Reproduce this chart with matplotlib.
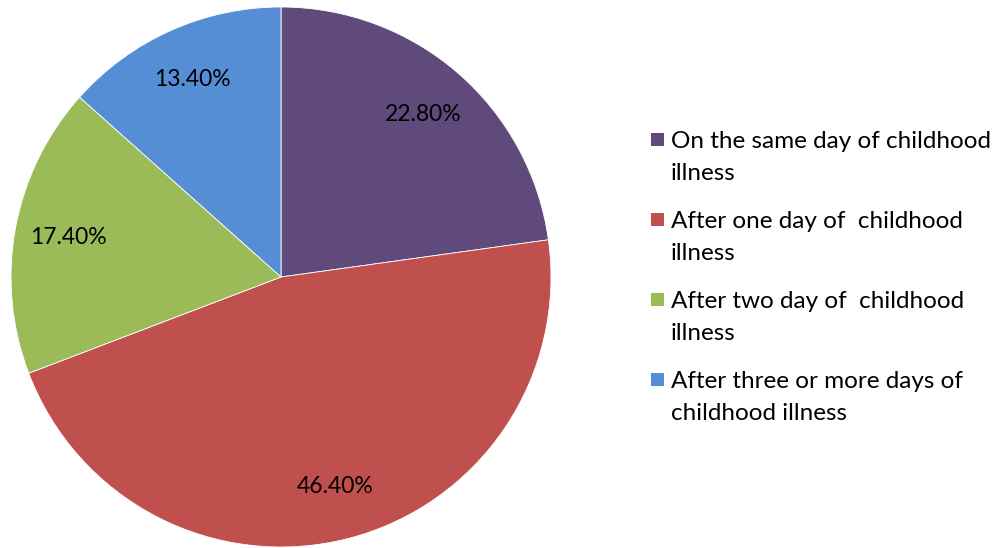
import matplotlib
matplotlib.use("Agg")
import matplotlib.pyplot as plt
from matplotlib.patches import Rectangle

plt.rcParams['font.family'] = ['Lato', 'DejaVu Sans']

# data
labels = ["On the same day of childhood\nillness",
          "After one day of  childhood\nillness",
          "After two day of  childhood\nillness",
          "After three or more days of\nchildhood illness"]
values = [22.8, 46.4, 17.4, 13.4]
colors = ["#604A7B", "#C0504D", "#9BBB59", "#558ED5"]

fig = plt.figure(figsize=(10, 5.48), dpi=100)

# pie axes: centre ~ (281, 277) px, radius ~270 px
W, H = 1000, 548
cx, cy, r = 281, 277, 270
ax = fig.add_axes([(cx - r) / W, (H - cy - r) / H, 2 * r / W, 2 * r / H])
wedges, texts, autotexts = ax.pie(values, colors=colors, startangle=90, counterclock=False,
                                  autopct=lambda p: "%.2f%%" % p, pctdistance=0.8,
                                  wedgeprops=dict(edgecolor="white", linewidth=0.6),
                                  textprops=dict(fontsize=16.5, color="black"))
ax.set_xlim(-1, 1)
ax.set_ylim(-1, 1)
ax.set_aspect("equal")
ax.axis("off")

# legend drawn by hand so the square sits on the first line
for i, (lab, col) in enumerate(zip(labels, colors)):
    ytop = 140 + 80 * i
    fig.patches.append(Rectangle((651 / W, 1 - (ytop + 6) / H), 13 / W, 13 / H,
                                 transform=fig.transFigure, facecolor=col, edgecolor="none"))
    fig.text(671 / W, 1 - (ytop - 9) / H, lab, fontsize=17.5, va="top", ha="left",
             linespacing=1.65)

fig.savefig("out.png", dpi=100)
